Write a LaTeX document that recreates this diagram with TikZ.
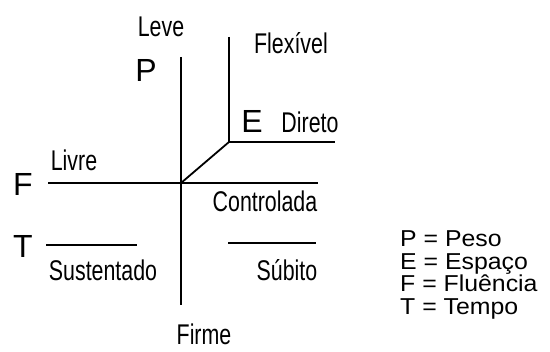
\documentclass[tikz,border=0pt]{standalone}
\usepackage{fontspec}
\setmainfont{Liberation Sans}
\newfontfamily\narrowfont[FakeStretch=0.75]{Liberation Sans}
\newfontfamily\legfont[FakeStretch=1.08]{Liberation Sans}
\begin{document}
\begin{tikzpicture}[x=1pt,y=-1pt,
  axis/.style={line width=1.8pt, black},
  lbl/.style={inner sep=0pt, anchor=base, font=\narrowfont\fontsize{28.5}{28.5}\selectfont},
  big/.style={inner sep=0pt, anchor=base, font=\fontsize{32}{32}\selectfont},
  leg/.style={inner sep=0pt, anchor=base west, font=\legfont\fontsize{23}{23}\selectfont}]
\useasboundingbox (0,0) rectangle (550,352);
% axis points
\coordinate (ptop) at (181,57);
\coordinate (pbot) at (181,305);
\coordinate (fl) at (48,183);
\coordinate (fr) at (318,183);
\coordinate (o) at (181,183);
\coordinate (ec) at (229,142);
\coordinate (etop) at (229,37);
\coordinate (er) at (335,142);
\coordinate (tla) at (46,245);
\coordinate (tlb) at (137,245);
\coordinate (tra) at (228,243);
\coordinate (trb) at (316,243);
\draw[axis] (ptop) -- (pbot);
\draw[axis] (fl) -- (fr);
\draw[axis] (o) -- (ec);
\draw[axis] (etop) -- (ec) -- (er);
\draw[axis] (tla) -- (tlb);
\draw[axis] (tra) -- (trb);
% labels
\node[lbl] (leve) at (161,37) {Leve};
\node[big] (p) at (146,82) {P};
\node[lbl] (flex) at (291,54) {Flexível};
\node[big] (e) at (252,133) {E};
\node[lbl] (direto) at (310,133) {Direto};
\node[lbl] (livre) at (74,171) {Livre};
\node[big] (f) at (23,196) {F};
\node[lbl] (contr) at (265,212) {Controlada};
\node[big] (t) at (23,258) {T};
\node[lbl] (sust) at (103,281) {Sustentado};
\node[lbl] (subito) at (287,281) {Súbito};
\node[lbl] (firme) at (204,345) {Firme};
% legend
\node[leg] (l1) at (400,247) {P = Peso};
\node[leg] (l2) at (400,269.5) {E = Espaço};
\node[leg] (l3) at (400,292) {F = Fluência};
\node[leg] (l4) at (400,314.5) {T = Tempo};
\end{tikzpicture}
\end{document}
